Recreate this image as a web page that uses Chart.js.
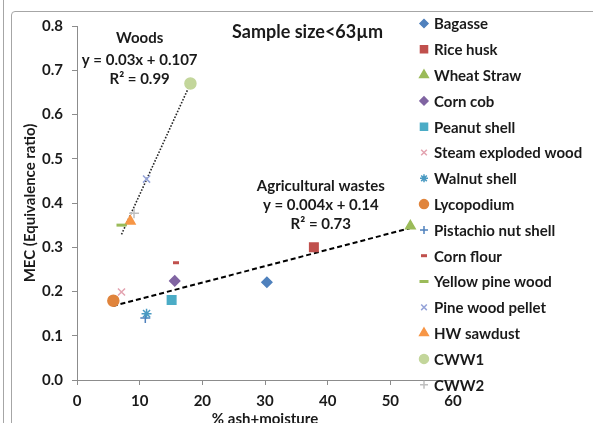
<!DOCTYPE html>
<html>
<head>
<meta charset="utf-8">
<script src="https://cdn.jsdelivr.net/npm/chart.js@4.4.1/dist/chart.umd.min.js"></script>
<style>
html, body { margin: 0; padding: 0; background: #fff; overflow: hidden; }
#wrap { width: 593px; height: 423px; }
</style>
</head>
<body>
<div id="wrap"><canvas id="chart" width="593" height="423"></canvas></div>
<script>
// series: % ash+moisture (x) vs MEC (y)
const seriesNames = ["Bagasse", "Rice husk", "Wheat Straw", "Corn cob", "Peanut shell",
  "Steam exploded wood", "Walnut shell", "Lycopodium", "Pistachio nut shell", "Corn flour",
  "Yellow pine wood", "Pine wood pellet", "HW sawdust", "CWW1", "CWW2"];
const xValues = [[30.3], [37.8], [53.2], [15.6], [15.1], [7.1], [11.1], [5.8], [10.9], [15.8],
  [7.1], [11.1], [8.5], [18.1], [9.1]];
const yValues = [[0.221], [0.300], [0.348], [0.224], [0.181], [0.199], [0.150], [0.179], [0.140], [0.265],
  [0.350], [0.454], [0.359], [0.670], [0.377]];

// trend lines as drawn
const woodsTrendX = [7.1, 18.1];
const woodsTrendY = [0.329, 0.670];
const agriTrendX = [5.7, 53.1];
const agriTrendY = [0.167, 0.343];

const xTicks = [0, 10, 20, 30, 40, 50, 60];
const yTicks = [0.0, 0.1, 0.2, 0.3, 0.4, 0.5, 0.6, 0.7, 0.8];

// marker look
const markerStyles = ["rectRot", "rect", "triangle", "rectRot", "rect", "crossRot", "star", "circle",
  "cross", "line", "line", "crossRot", "triangle", "circle", "cross"];
const markerColors = ["#4F81BD", "#C0504D", "#9BBB59", "#8064A2", "#4BACC6", "#E3A3B0", "#4A9AC2", "#E0843C",
  "#4F81BD", "#C0504D", "#9BBB59", "#95A3D8", "#F79646", "#C3D69B", "#BFBFBF"];
const markerSizes = [5, 6, 5.5, 5, 6, 5, 5, 5.5, 5, 3, 5, 5, 5.5, 5.5, 5];
const legendSizes = [4, 5, 5, 4, 5, 4, 4, 4.5, 4, 3, 4.5, 4, 5, 4.5, 4];

const FONT = "Lato, 'Open Sans', sans-serif";

const notes = [
  { text: "Woods", x: 10.0, y: 0.772, size: 15 },
  { text: "y = 0.03x + 0.107", x: 10.0, y: 0.723, size: 15 },
  { text: "R\u00B2 = 0.99", x: 10.0, y: 0.680, size: 15 },
  { text: "Sample size<63\u00B5m", x: 36.8, y: 0.785, size: 18 },
  { text: "Agricultural wastes", x: 38.9, y: 0.438, size: 15 },
  { text: "y = 0.004x + 0.14", x: 38.9, y: 0.395, size: 15 },
  { text: "R\u00B2 = 0.73", x: 38.9, y: 0.352, size: 15 }
];

function drawMarker(ctx, style, x, y, r, color) {
  ctx.save();
  ctx.fillStyle = color;
  ctx.strokeStyle = color;
  const bw = style === "line" ? 3 : 1.5;
  ctx.lineWidth = bw;
  const opts = { pointStyle: style, radius: r, rotation: 0, borderWidth: bw };
  if (Chart.helpers && Chart.helpers.drawPoint) {
    Chart.helpers.drawPoint(ctx, opts, x, y);
  } else {
    ctx.beginPath();
    ctx.arc(x, y, r, 0, Math.PI * 2);
    ctx.fill();
  }
  ctx.restore();
}

const framePlugin = {
  id: "frame",
  beforeDraw(chart) {
    const ctx = chart.ctx;
    ctx.save();
    ctx.strokeStyle = "#A6A6A6";
    ctx.lineWidth = 1;
    ctx.beginPath();
    ctx.moveTo(3.5, 0);
    ctx.lineTo(3.5, 423);
    ctx.moveTo(11.5, 423);
    ctx.lineTo(11.5, 15);
    ctx.quadraticCurveTo(11.5, 11.5, 15, 11.5);
    ctx.lineTo(593, 11.5);
    ctx.stroke();
    ctx.restore();
  }
};

const notesPlugin = {
  id: "notes",
  afterDatasetsDraw(chart) {
    const ctx = chart.ctx;
    const xs = chart.scales.x, ys = chart.scales.y;
    ctx.save();
    ctx.fillStyle = "#1A1A1A";
    ctx.textAlign = "center";
    ctx.textBaseline = "middle";
    notes.forEach(n => {
      ctx.font = "bold " + n.size + "px " + FONT;
      ctx.fillText(n.text, xs.getPixelForValue(n.x), ys.getPixelForValue(n.y));
    });
    ctx.restore();
  }
};

const legendPlugin = {
  id: "sideLegend",
  afterDraw(chart) {
    const ctx = chart.ctx;
    ctx.save();
    ctx.font = "bold 15px " + FONT;
    ctx.textBaseline = "middle";
    seriesNames.forEach((name, i) => {
      const y = 23.5 + i * 25.8;
      drawMarker(ctx, markerStyles[i], 424, y, legendSizes[i], markerColors[i]);
      ctx.fillStyle = "#1A1A1A";
      ctx.fillText(name, 434, y + 1);
    });
    ctx.restore();
  }
};

const datasets = seriesNames.map((name, i) => ({
  type: "scatter",
  label: name,
  data: xValues[i].map((x, j) => ({ x: x, y: yValues[i][j] })),
  pointStyle: markerStyles[i],
  pointRadius: markerSizes[i],
  pointHoverRadius: markerSizes[i],
  backgroundColor: markerColors[i],
  borderColor: markerColors[i],
  borderWidth: markerStyles[i] === "line" ? 3 : 1.5
}));

datasets.push({
  type: "line",
  label: "Woods trend",
  data: woodsTrendX.map((x, j) => ({ x: x, y: woodsTrendY[j] })),
  borderColor: "#262626",
  borderWidth: 1.6,
  borderDash: [1.6, 1.6],
  pointRadius: 0,
  fill: false
});
datasets.push({
  type: "line",
  label: "Agricultural trend",
  data: agriTrendX.map((x, j) => ({ x: x, y: agriTrendY[j] })),
  borderColor: "#000",
  borderWidth: 2,
  borderDash: [5, 3],
  pointRadius: 0,
  fill: false
});

new Chart(document.getElementById("chart").getContext("2d"), {
  type: "scatter",
  data: { datasets: datasets },
  options: {
    responsive: false,
    animation: false,
    layout: { padding: { left: 18, right: 140, top: 26, bottom: 0 } },
    plugins: {
      legend: { display: false },
      tooltip: { enabled: false }
    },
    scales: {
      x: {
        type: "linear",
        min: 0,
        max: 60,
        afterFit: s => { s.height = 43; },
        afterBuildTicks: s => { s.ticks = xTicks.map(v => ({ value: v })); },
        grid: { drawOnChartArea: false, drawTicks: true, tickLength: 5, color: "#8C8C8C" },
        border: { color: "#8C8C8C" },
        ticks: { color: "#1A1A1A", font: { family: FONT, size: 15, weight: "bold" }, padding: 7 },
        title: {
          display: true, text: "% ash+moisture", color: "#1A1A1A",
          font: { family: FONT, size: 15, weight: "bold" }, padding: { top: 0, bottom: -5 }
        }
      },
      y: {
        type: "linear",
        min: 0,
        max: 0.8,
        afterFit: s => { s.width = 59; },
        afterBuildTicks: s => { s.ticks = yTicks.map(v => ({ value: v })); },
        grid: { drawOnChartArea: false, drawTicks: true, tickLength: 5, color: "#8C8C8C" },
        border: { color: "#8C8C8C" },
        ticks: {
          color: "#1A1A1A", font: { family: FONT, size: 15, weight: "bold" }, padding: 9,
          callback: v => v.toFixed(1)
        },
        title: {
          display: true, text: "MEC (Equivalence ratio)", color: "#1A1A1A",
          font: { family: FONT, size: 15, weight: "bold" }, padding: { top: 3, bottom: 3 }
        }
      }
    }
  },
  plugins: [framePlugin, notesPlugin, legendPlugin]
});
</script>
</body>
</html>
